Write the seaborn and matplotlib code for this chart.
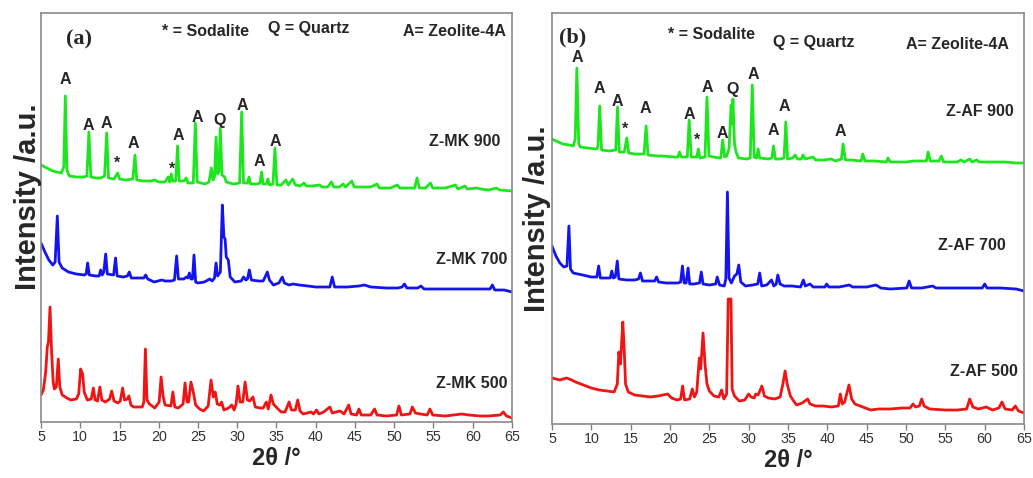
import matplotlib
matplotlib.use('Agg')
import matplotlib.pyplot as plt
import pandas as pd
import seaborn as sns

# ---------------- data (2theta in degrees, intensity in a.u. incl. stacking offset) ----------------
mk900_x = [5.0,5.5,6.0,6.5,7.0,7.6,7.9,8.1,8.3,8.6,9.5,10.5,10.85,11.1,11.35,12.0,12.6,13.1,13.37,13.6,14.3,14.6,14.77,15.0,15.8,16.7,16.97,17.2,18.0,19.0,19.5,20.0,20.8,21.2,21.4,21.6,21.8,22.15,22.4,22.6,23.2,23.5,23.7,24.4,24.66,24.9,25.4,25.9,26.4,26.7,26.9,27.1,27.3,27.5,27.65,27.84,28.05,28.4,28.6,29.5,30.3,30.56,30.8,31.3,31.5,31.7,32.5,32.9,33.1,33.3,33.7,33.9,34.1,34.55,34.8,35.05,35.6,36.2,36.5,37.06,37.4,38.0,38.5,38.8,39.5,40.5,40.8,41.5,42.0,42.3,43.0,43.5,43.8,44.6,44.9,46.0,47.0,47.8,48.1,49.5,50.4,50.7,52.0,52.6,52.9,53.2,54.0,54.6,54.9,56.5,57.8,58.1,59.0,59.3,60.5,61.0,62.0,63.0,63.4,65.0]
mk900_y = [257,255,253,251,250,249,255,326,252,246,245,245,246,290,245,244,244,246,289,244,243,247,249,243,242,243,267,242,241,241,242,240,240,245,240,248,241,241,276,241,241,244,239,239,299,240,239,238,240,254,242,245,285,248,250,294,247,245,240,238,239,310,239,239,245,238,238,239,250,238,238,243,237,238,274,237,237,242,237,243,237,236,239,236,236,237,235,235,240,235,235,238,235,241,235,235,235,238,234,234,237,234,234,234,244,234,234,239,234,234,237,233,236,233,234,233,232,234,232,231]

mk700_x = [5.0,5.5,6.0,6.5,6.8,7.08,7.3,7.7,8.5,9.5,10.5,10.75,10.94,11.15,12.0,12.4,12.6,12.8,13.0,13.24,13.45,14.25,14.5,14.7,15.5,16.0,16.25,16.5,17.5,18.1,18.33,18.6,19.4,20.4,20.8,21.6,22.0,22.28,22.5,23.2,23.5,23.7,23.9,24.1,24.3,24.49,24.7,25.0,25.8,26.5,26.8,27.1,27.3,27.5,27.85,28.1,28.3,28.45,28.6,28.86,29.1,29.7,30.5,30.8,31.1,31.3,31.54,31.8,32.7,33.3,33.55,33.83,34.1,34.6,35.3,35.74,36.0,36.6,37.1,37.9,39.0,40.0,41.8,42.1,42.4,44.0,45.5,46.2,47.0,49.0,50.5,51.0,51.3,51.6,53.0,53.4,53.8,56.0,58.0,60.0,62.2,62.5,62.8,64.0,65.0]
mk700_y = [179,170,162,157,160,206,160,154,150,148,147,148,159,147,146,146,152,147,150,168,148,147,164,146,145,146,150,144,144,144,147,143,140,142,141,141,142,166,143,143,145,144,149,143,143,167,140,139,140,143,141,144,159,146,150,217,185,183,165,162,145,140,141,145,142,143,152,142,141,141,145,150,142,137,139,145,139,137,138,137,136,135,135,145,135,135,136,137,135,134,134,135,138,134,134,136,133,133,133,133,133,137,132,132,130]

mk500_x = [5.0,5.3,5.6,5.8,5.95,6.15,6.35,6.55,6.7,6.95,7.2,7.4,7.7,8.3,8.8,9.5,9.8,10.05,10.3,10.5,10.9,11.4,11.67,11.9,12.2,12.5,12.75,13.2,13.75,14.0,14.3,14.8,15.1,15.4,15.65,16.0,16.2,16.45,16.8,17.9,18.1,18.3,18.5,18.8,19.5,20.05,20.3,20.55,20.8,21.55,21.8,22.05,22.5,23.1,23.35,23.6,23.8,24.1,24.4,24.7,25.2,25.7,26.3,26.66,26.95,27.2,27.45,27.8,28.0,28.3,28.9,29.3,29.6,29.85,30.1,30.35,30.7,31.0,31.3,31.6,32.0,32.3,32.9,33.3,33.7,33.95,34.3,34.6,35.2,35.6,36.1,36.6,36.9,37.4,37.7,38.0,38.4,39.4,39.7,40.1,40.4,41.0,41.8,42.1,43.1,43.6,44.2,44.5,45.2,45.5,45.8,47.0,47.5,47.8,49.0,50.3,50.6,50.9,52.0,52.3,52.7,53.3,54.2,54.55,54.9,56.5,57.5,58.6,59.5,61.0,62.0,63.5,63.9,64.3,65.0]
mk500_y = [27,32,50,75,80,115,70,40,33,35,63,35,27,24,22,23,28,53,48,30,22,23,34,22,21,35,22,20,23,31,21,19,21,34,22,23,26,17,15,15,20,73,22,18,14,20,45,26,17,16,30,15,14,18,39,20,20,40,30,17,13,11,16,42,25,30,18,17,20,12,14,17,12,18,36,20,20,40,22,21,25,15,14,14,20,13,27,18,13,10,10,20,12,12,22,11,8,10,8,12,8,10,15,9,11,8,17,8,7,13,7,7,13,7,6,7,16,7,8,15,9,8,7,13,7,6,7,8,7,6,6,7,10,6,4]

af900_x = [5.0,5.5,6.4,7.2,7.7,7.95,8.16,8.4,8.6,9.5,10.7,10.85,11.06,11.3,12.3,13.1,13.33,13.55,14.2,14.5,14.75,15.5,16.7,16.96,17.2,18.5,19.0,20.5,21.0,21.2,21.45,22.2,22.43,22.7,23.4,23.6,23.8,24.45,24.7,24.95,25.5,26.45,26.7,26.95,27.2,27.5,27.77,27.88,28.0,28.2,28.4,28.7,29.8,30.2,30.46,30.7,31.0,31.2,31.4,32.5,32.95,33.16,33.4,34.0,34.5,34.72,34.95,35.6,35.9,36.2,36.7,36.9,37.2,38.2,38.5,39.5,40.5,41.0,41.8,42.0,42.3,43.0,44.3,44.5,44.8,46.0,47.5,47.7,48.0,50.0,51.0,52.6,52.8,53.1,54.2,54.5,54.8,56.5,57.0,57.4,58.1,58.4,59.0,59.3,61.0,62.5,64.0,65.0]
af900_y = [285,283,280,279,278,285,356,280,277,276,275,278,318,274,273,274,317,272,272,286,271,270,270,298,269,268,268,267,267,272,267,267,304,267,267,275,266,267,327,268,267,266,284,267,268,275,319,300,325,280,272,266,265,266,339,267,266,275,266,265,266,278,265,265,266,302,265,266,269,265,265,269,265,267,264,264,265,263,265,280,264,264,263,270,263,263,262,266,262,262,263,263,272,263,263,268,262,262,264,262,265,262,264,262,262,262,261,261]

af700_x = [5.0,5.5,6.0,6.5,6.9,7.15,7.35,7.7,8.9,10.0,10.7,10.93,11.15,12.0,12.4,12.6,12.8,13.05,13.3,13.5,14.5,15.5,16.0,16.24,16.5,17.5,18.05,18.3,18.55,19.5,20.5,21.0,21.35,21.58,21.8,22.05,22.3,22.5,23.0,23.75,23.98,24.2,25.0,25.8,26.0,26.3,26.9,27.1,27.3,27.5,27.8,28.2,28.5,28.74,29.0,29.6,30.5,31.15,31.4,31.65,32.3,32.9,33.2,33.5,33.7,34.0,34.5,35.5,36.6,36.95,37.2,37.8,38.2,39.7,39.9,40.2,41.5,42.8,43.2,45.0,46.2,46.8,48.0,50.1,50.4,50.7,52.0,53.4,53.8,55.0,57.0,59.7,60.0,60.3,62.0,64.0,65.0]
af700_y = [178,168,161,157,158,198,155,151,149,147,147,158,146,146,146,153,146,147,163,145,144,144,145,151,143,143,143,147,142,141,141,141,142,158,141,141,156,140,140,141,152,140,139,140,147,139,138,145,232,146,141,148,150,159,142,138,139,140,151,138,139,144,138,140,149,140,138,138,137,144,138,140,137,137,140,137,137,139,137,137,139,136,135,136,143,136,136,138,136,136,136,136,140,136,136,135,133]

af500_x = [5.0,6.0,6.85,7.5,8.0,9.0,10.0,11.0,12.0,12.9,13.3,13.5,13.7,14.0,14.15,14.35,14.7,15.5,16.5,17.5,18.5,19.7,20.2,20.9,21.35,21.6,21.85,22.5,22.84,23.1,23.4,23.73,23.9,24.2,24.45,24.7,25.0,25.6,26.2,26.56,26.85,27.2,27.4,27.75,27.9,28.2,28.8,29.5,30.0,30.3,30.7,30.9,31.2,31.68,32.0,32.5,33.3,34.0,34.35,34.63,34.9,35.3,35.8,36.1,36.8,37.5,37.8,38.5,39.5,40.5,41.4,41.65,41.9,42.2,42.75,43.1,43.5,44.5,45.5,46.5,48.0,49.5,50.5,50.9,51.2,51.7,52.0,52.3,53.0,55.0,56.5,57.7,58.1,58.5,59.2,60.2,61.0,61.8,62.2,62.6,63.5,63.9,64.3,65.0]
af500_y = [46,44,46,44,42,39,36,34,33,32,40,72,60,102,80,40,32,29,28,27,28,30,26,24,25,38,24,25,35,27,32,66,55,91,60,40,33,28,27,34,25,30,125,125,35,28,23,24,30,27,26,30,29,38,28,26,25,27,40,53,40,28,22,19,21,25,20,18,18,17,18,30,20,22,39,25,20,17,14,15,15,16,16,20,17,18,25,18,15,14,14,15,25,17,15,17,14,16,22,15,14,18,13,11]

# phase markers: (symbol, 2theta, height)
mk_marks = ['A', 'A', 'A', 'A', 'A', 'A', 'Q', 'A', 'A', 'A', '*', '*']
mk_marks_x = [8.06, 11.0, 13.28, 16.7, 22.45, 24.87, 27.8, 30.6, 32.8, 34.8, 14.7, 21.7]
mk_marks_y = [342, 297, 299, 279, 287, 304, 302, 317, 261, 281, 259, 253]
af_marks = ['A', 'A', 'A', 'A', 'A', 'A', 'Q', 'A', 'A', 'A', 'A', 'A', '*', '*']
af_marks_x = [8.28, 11.06, 13.34, 16.87, 22.43, 24.7, 27.99, 30.64, 26.6, 33.17, 34.56, 41.63, 14.35, 23.44]
af_marks_y = [366, 335, 322, 315, 309, 336, 334, 349, 290, 293, 317, 292, 295, 284]

x_ticks = [5, 10, 15, 20, 25, 30, 35, 40, 45, 50, 55, 60, 65]

# ---------------- style ----------------
sns.set_style('white')
plt.rcParams['font.family'] = ['Liberation Sans', 'DejaVu Sans']

GREEN, BLUE, RED = '#1ee61e', '#1414f0', '#f01414'
W, H = 1033, 478
fig = plt.figure(figsize=(W / 100, H / 100), dpi=100)
axA = fig.add_axes([41 / W, 1 - 422 / H, 471 / W, 409 / H])
axB = fig.add_axes([552 / W, 1 - 424 / H, 472 / W, 411 / H])


def frame(name, xs, ys):
    return pd.DataFrame({'two_theta': xs, 'intensity': ys, 'sample': name})


dfA = pd.concat([frame('Z-MK 900', mk900_x, mk900_y),
                 frame('Z-MK 700', mk700_x, mk700_y),
                 frame('Z-MK 500', mk500_x, mk500_y)])
dfB = pd.concat([frame('Z-AF 900', af900_x, af900_y),
                 frame('Z-AF 700', af700_x, af700_y),
                 frame('Z-AF 500', af500_x, af500_y)])

sns.lineplot(data=dfA, x='two_theta', y='intensity', hue='sample',
             palette={'Z-MK 900': GREEN, 'Z-MK 700': BLUE, 'Z-MK 500': RED},
             estimator=None, sort=False, lw=2.0, legend=False, ax=axA)
sns.lineplot(data=dfB, x='two_theta', y='intensity', hue='sample',
             palette={'Z-AF 900': GREEN, 'Z-AF 700': BLUE, 'Z-AF 500': RED},
             estimator=None, sort=False, lw=2.0, legend=False, ax=axB)

for ax, ytop in ((axA, 409), (axB, 411)):
    ax.set_xlim(5, 65)
    ax.set_ylim(0, ytop)
    ax.set_xticks(x_ticks)
    ax.set_yticks([])
    ax.set_xlabel('2θ /°', fontsize=17, fontweight='bold', labelpad=2)
    ax.set_ylabel('')
    ax.tick_params(axis='x', direction='out', length=4, width=1, color='#808080',
                   labelsize=10.3, labelcolor='#333333', pad=2, bottom=True)
    for s in ax.spines.values():
        s.set_color('#8a8a8a')
        s.set_linewidth(1.2)

lab = dict(fontsize=11.5, fontweight='bold', ha='center', va='center')
for t, x, y in zip(mk_marks, mk_marks_x, mk_marks_y):
    axA.text(x, y, t, **lab)
for t, x, y in zip(af_marks, af_marks_x, af_marks_y):
    axB.text(x, y, t, **lab)

# headers
axA.text(9.84, 383, '(a)', fontsize=16, fontweight='bold', family='Liberation Serif', ha='center', va='center')
axA.text(26.0, 391, '* = Sodalite', **lab)
axA.text(39.1, 393, 'Q = Quartz', **lab)
axA.text(57.7, 390, 'A= Zeolite-4A', **lab)
axA.text(59.0, 280, 'Z-MK 900', **lab)
axA.text(59.9, 162, 'Z-MK 700', **lab)
axA.text(59.9, 38, 'Z-MK 500', **lab)

axB.text(7.65, 387, '(b)', fontsize=16, fontweight='bold', family='Liberation Serif', ha='center', va='center')
axB.text(25.3, 389, '* = Sodalite', **lab)
axB.text(38.3, 381, 'Q = Quartz', **lab)
axB.text(56.5, 379, 'A= Zeolite-4A', **lab)
axB.text(59.4, 312, 'Z-AF 900', **lab)
axB.text(58.4, 178, 'Z-AF 700', **lab)
axB.text(59.9, 52, 'Z-AF 500', **lab)

fig.text(28 / W, 1 - 197 / H, 'Intensity /a.u.', rotation=90, fontsize=21,
         fontweight='bold', ha='center', va='center')
fig.text(537 / W, 1 - 219 / H, 'Intensity /a.u.', rotation=90, fontsize=21,
         fontweight='bold', ha='center', va='center')

fig.savefig('out.png', dpi=100)
